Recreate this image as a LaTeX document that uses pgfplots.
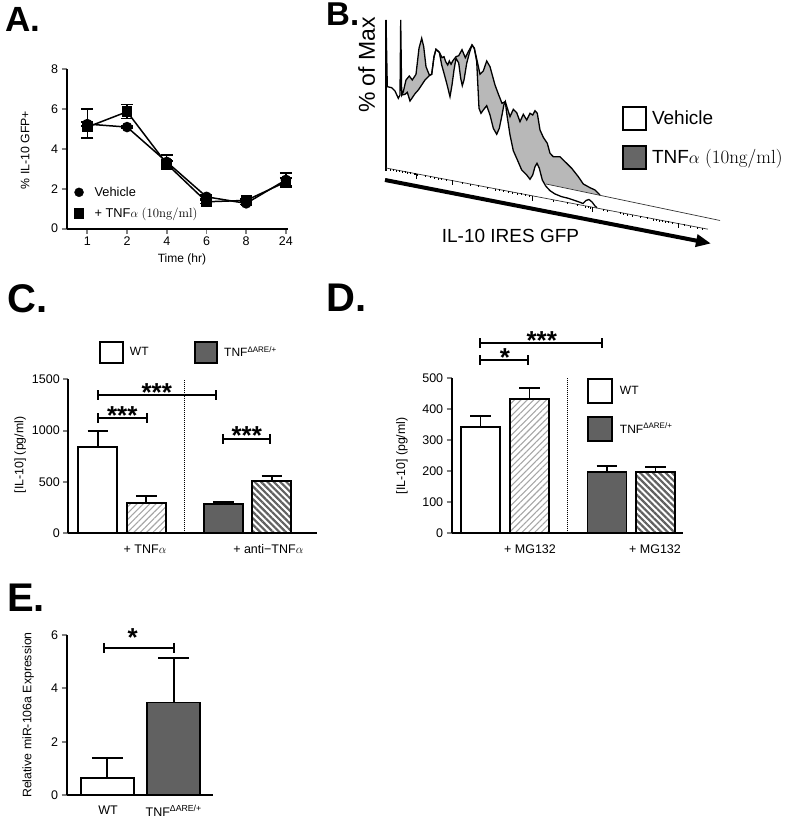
\documentclass[border=0pt]{standalone}
\usepackage{fontspec}
\setsansfont{Liberation Sans}
\renewcommand{\familydefault}{\sfdefault}
\usepackage{pgfplots}
\pgfplotsset{compat=1.18}
\usetikzlibrary{patterns.meta,arrows.meta}
\definecolor{dgray}{HTML}{616161}
\definecolor{hgray}{HTML}{B8B8B8}
\newcommand\fs[1]{\fontsize{#1}{#1}\selectfont}
\pgfplotsset{
 gp/.style={scale only axis, clip=false, axis x line=bottom, axis y line=left,
   axis line style={-, line width=1.9pt},
   every outer x axis line/.append style={-}, every outer y axis line/.append style={-},
   tick style={line width=1.9pt}, major tick length=5pt, tick align=outside,
   tick label style={font=\fs{12.5}}, /pgf/number format/assume math mode=true,
   /pgf/number format/set thousands separator={},
   ylabel style={anchor=center, font=\fs{12.3}}, xlabel style={anchor=center, font=\fs{12}},
   legend style={draw=none, fill=none, inner sep=0pt, outer sep=0pt}},
 sbar/.style={ybar, bar shift=0pt, draw=black, line width=1.9pt,
   /pgfplots/error bars/y dir=plus, /pgfplots/error bars/y explicit,
   /pgfplots/error bars/error bar style={line width=1.9pt},
   /pgfplots/error bars/error mark options={rotate=90, line width=1.9pt, mark size=#1}},
 lhatch/.style={pattern={Lines[angle=45,distance=4.5pt,line width=1.1pt]}, pattern color=black!35},
 dhatch/.style={pattern={Lines[angle=-45,distance=4.5pt,line width=2.2pt]}, pattern color=dgray},
}
\newcommand\brk[6]{% x1 x2 y starx text yshift
 \draw[line width=1.9pt] (axis cs:#1,#3) -- (axis cs:#2,#3);
 \draw[line width=1.9pt] (axis cs:#1,#3) ++(0pt,5pt) -- ++(0pt,-10pt);
 \draw[line width=1.9pt] (axis cs:#2,#3) ++(0pt,5pt) -- ++(0pt,-10pt);
 \node[anchor=base, font=\bfseries\fs{26}, inner sep=0pt, yshift=#6] at (axis cs:#4,#3) {#5};}
\begin{document}
\begin{tikzpicture}[x=1pt,y=1pt]
\useasboundingbox (0pt,0pt) rectangle (800pt,819pt);
% panel letters
\node[anchor=base west, inner sep=0pt, font=\bfseries\fs{35}] at (5pt,787pt) {A.};
\node[anchor=base west, inner sep=0pt, font=\bfseries\fs{33}] at (326pt,793pt) {B.};
\node[anchor=base west, inner sep=0pt, font=\bfseries\fs{40}] at (7pt,506pt) {C.};
\node[anchor=base west, inner sep=0pt, font=\bfseries\fs{40}] at (326pt,507pt) {D.};
\node[anchor=base west, inner sep=0pt, font=\bfseries\fs{40}] at (7pt,207pt) {E.};

% ---------------- A ----------------
\begin{axis}[gp, at={(66.7pt,590.3pt)}, anchor=south west, width=221.6pt, height=159.4pt,
  xmin=-0.52, xmax=5.06, ymin=0, ymax=8, xtick={0,1,2,3,4,5}, xticklabels={1,2,4,6,8,24},
  ytick={0,2,4,6,8},
  ylabel={\% IL-10 GFP+}, ylabel style={at={(axis description cs:-0.188,0.494)}, font=\fs{12.3}},
  xlabel={Time (hr)}, xlabel style={at={(axis description cs:0.52,-0.19)}, font=\fs{12}},
  legend style={at={(axis description cs:0.035,0.262)}, anchor=north west, font=\fs{12.8},
    row sep=10pt, column sep=11pt, nodes={inner sep=0pt, anchor=west}},
  legend image code/.code={\draw[#1] plot coordinates {(5pt,0pt)};}]
\addplot[black, line width=1.5pt, mark=*, mark size=4.5pt, forget plot,
  error bars/.cd, y dir=both, y explicit, error bar style={line width=1.4pt},
  error mark options={rotate=90, line width=1.4pt, mark size=6pt}]
  coordinates {(0,5.25) +- (0,0.1) (1,5.1) +- (0,0.05) (2,3.35) +- (0,0.35)
               (3,1.6) +- (0,0.1) (4,1.27) +- (0,0.05) (5,2.45) +- (0,0.35)};
\addplot[black, line width=1.5pt, mark=square*, mark size=4.6pt, forget plot,
  error bars/.cd, y dir=both, y explicit, error bar style={line width=1.4pt},
  error mark options={rotate=90, line width=1.4pt, mark size=6pt}]
  coordinates {(0,5.1) += (0,0.9) -= (0,0.55) (1,5.87) +- (0,0.35) (2,3.25) +- (0,0.15)
               (3,1.35) +- (0,0.1) (4,1.42) +- (0,0.08) (5,2.35) +- (0,0.2)};
\addlegendimage{only marks, mark=*, mark size=4.5pt, black}
\addlegendentry{Vehicle}
\addlegendimage{only marks, mark=square*, mark size=4.6pt, black}
\addlegendentry{+ TNF$\alpha$ {\rmfamily(10ng/ml)}}
\end{axis}

% ---------------- B ----------------
\begin{axis}[hide axis, scale only axis, clip=false, at={(380pt,569pt)}, anchor=south west,
  width=350pt, height=250pt, xmin=380, xmax=730, ymin=-250, ymax=0,
  legend style={draw=none, fill=none, inner sep=0pt, outer sep=0pt,
    at={(axis description cs:0.6906,0.576)}, anchor=north west, font=\fs{19},
    row sep=13.5pt, column sep=5pt, nodes={inner sep=0pt, anchor=west}},
  legend image code/.code={\draw[#1, line width=2pt] (0pt,-11.65pt) rectangle (23.3pt,11.65pt);}]
\addplot[fill=hgray, draw=none, forget plot] coordinates {
(386,-20) (387.3,-86.7) (391.7,-87.7) (395,-91) (398.3,-98.3) (400,-95) (400.7,-20) (401.7,-95)
(403.3,-91.7) (406,-80) (409.3,-76) (412.3,-80) (416,-74.3) (419,-48.3) (421.7,-38.3) (423.7,-46.7)
(426,-66.7) (429.3,-75) (431.7,-74.3) (434,-56.7) (436,-49.3) (439.3,-52.3) (442,-57.7) (444,-56.7)
(445.7,-61.7) (447.7,-65) (449.3,-61) (451,-64.3) (452.7,-61) (456,-56.7) (458.7,-55.7) (462,-49.7)
(465.3,-57.7) (468.7,-51) (472,-45) (474.3,-48.3) (477.3,-61.7) (480,-74.3) (483.3,-71) (486.7,-61)
(490,-66.7) (495,-85) (498.7,-95) (502,-103.3) (505.3,-101.7) (510,-116.7) (513.3,-109.3) (516.7,-112.7)
(520,-121.7) (523.3,-114.3) (526.7,-120) (530,-113.3) (532.7,-115) (535,-110.7) (537.3,-113.3) (540,-130)
(543.3,-137.3) (547.3,-143.3) (550,-153.3) (553.3,-156.7) (560,-156.7) (565,-161.7) (571.7,-168.3)
(578.3,-176.7) (583.3,-184) (590,-187.7) (595,-190) (600,-195) (386,-151)} -- cycle;
\addplot[fill=white, draw=none, forget plot] coordinates {
(386,-168) (386,-20) (387.3,-86.7) (391.7,-87.7) (395,-91) (398.3,-98.3) (400,-95) (400.7,-20) (401.7,-95)
(405,-94.3) (407.3,-92.3) (410,-101) (412.3,-97.7) (415,-93.7) (418.3,-90) (421.7,-85) (425,-80)
(429.3,-75.7) (431.7,-74.3) (434,-56.7) (436,-49.3) (439.3,-52.3) (441.7,-65) (444,-73.3) (446.7,-83.3)
(450,-96.7) (452,-85) (454,-70) (456,-58.3) (458.7,-63) (460.7,-78.3) (462.3,-85.7) (464,-80)
(466.7,-63.3) (469.3,-53.3) (472,-45) (474.3,-48.3) (476.7,-61.7) (479,-108.3) (481,-113.3) (483.3,-110)
(486.7,-105.7) (490,-115) (493.3,-128.3) (496.7,-134.3) (499.3,-128.3) (502,-115) (504,-104.3) (505.3,-101.7)
(506.7,-113.3) (510,-135) (513.3,-150.7) (517.7,-160.7) (521.7,-170) (526.7,-175) (530,-179.3) (532.7,-175)
(535,-166.7) (537,-163.3) (539.3,-168.3) (542.3,-180) (545.7,-186) (550,-190.7) (555,-194) (561.7,-196.7)
(568.3,-198.3) (578.3,-201.7) (583,-203.5) (586,-200.5) (589,-199.5) (592,-202) (595,-206) (597,-207.8)} -- cycle;
\addplot[black, line width=1.3pt, forget plot] coordinates {
(386,-20) (387.3,-86.7) (391.7,-87.7) (395,-91) (398.3,-98.3) (400,-95) (400.7,-20) (401.7,-95)
(403.3,-91.7) (406,-80) (409.3,-76) (412.3,-80) (416,-74.3) (419,-48.3) (421.7,-38.3) (423.7,-46.7)
(426,-66.7) (429.3,-75) (431.7,-74.3) (434,-56.7) (436,-49.3) (439.3,-52.3) (442,-57.7) (444,-56.7)
(445.7,-61.7) (447.7,-65) (449.3,-61) (451,-64.3) (452.7,-61) (456,-56.7) (458.7,-55.7) (462,-49.7)
(465.3,-57.7) (468.7,-51) (472,-45) (474.3,-48.3) (477.3,-61.7) (480,-74.3) (483.3,-71) (486.7,-61)
(490,-66.7) (495,-85) (498.7,-95) (502,-103.3) (505.3,-101.7) (510,-116.7) (513.3,-109.3) (516.7,-112.7)
(520,-121.7) (523.3,-114.3) (526.7,-120) (530,-113.3) (532.7,-115) (535,-110.7) (537.3,-113.3) (540,-130)
(543.3,-137.3) (547.3,-143.3) (550,-153.3) (553.3,-156.7) (560,-156.7) (565,-161.7) (571.7,-168.3)
(578.3,-176.7) (583.3,-184) (590,-187.7) (595,-190) (600,-195)};
\addplot[black, line width=1.3pt, forget plot] coordinates {
(401.7,-95) (405,-94.3) (407.3,-92.3) (410,-101) (412.3,-97.7) (415,-93.7) (418.3,-90) (421.7,-85) (425,-80)
(429.3,-75.7) (431.7,-74.3) (434,-56.7) (436,-49.3) (439.3,-52.3) (441.7,-65) (444,-73.3) (446.7,-83.3)
(450,-96.7) (452,-85) (454,-70) (456,-58.3) (458.7,-63) (460.7,-78.3) (462.3,-85.7) (464,-80)
(466.7,-63.3) (469.3,-53.3) (472,-45) (474.3,-48.3) (476.7,-61.7) (479,-108.3) (481,-113.3) (483.3,-110)
(486.7,-105.7) (490,-115) (493.3,-128.3) (496.7,-134.3) (499.3,-128.3) (502,-115) (504,-104.3) (505.3,-101.7)
(506.7,-113.3) (510,-135) (513.3,-150.7) (517.7,-160.7) (521.7,-170) (526.7,-175) (530,-179.3) (532.7,-175)
(535,-166.7) (537,-163.3) (539.3,-168.3) (542.3,-180) (545.7,-186) (550,-190.7) (555,-194) (561.7,-196.7)
(568.3,-198.3) (578.3,-201.7) (583,-203.5) (586,-200.5) (589,-199.5) (592,-202) (595,-206) (597,-207.8)};
\addplot[black, line width=1.1pt, forget plot] coordinates {(386,-20) (386,-171)};
\addplot[black!80, line width=0.7pt, forget plot] coordinates {(386,-168) (708,-229.2)};
\addplot[black!80, line width=0.7pt, forget plot] coordinates {(546,-184) (720,-220.5)};
\addplot[only marks, mark=|, mark size=1pt, mark options={line width=0.6pt, black}, forget plot] coordinates {
(390,-169.6) (393,-170.2) (396,-170.8) (399,-171.3) (402,-171.9) (405,-172.5) (407,-172.9) (410,-173.4)
(414,-174.2) (415,-174.4) (417,-174.8) (425,-176.3) (430,-177.2) (434,-178.0) (438,-178.8) (441,-179.3)
(446,-180.3) (462,-183.3) (470,-184.8) (478,-186.4) (487,-188.1) (495,-189.6) (499,-190.3) (503,-191.1)
(508,-192.1) (512,-192.8) (517,-193.8) (521,-194.5) (525,-195.3) (529,-196.0) (553,-200.6) (567,-203.3)
(577,-205.2) (585,-206.7) (588,-207.3) (590,-207.6) (603,-210.1) (607,-210.9) (620,-213.3) (623,-213.9)
(627,-214.7) (632,-215.6) (640,-217.1) (647,-218.5) (653,-219.6) (656,-220.2) (659,-220.7) (662,-221.3)
(665,-221.9) (668,-222.5) (672,-223.2) (684,-225.5) (690,-226.6) (697,-228.0) (702,-228.9)};
\addplot[only marks, mark=|, mark size=2.5pt, mark options={line width=0.8pt, black}, forget plot] coordinates {
(416,-176.1) (452,-182.9) (532,-198.1) (592,-209.5) (678,-225.9)};
\addplot[black, line width=4pt, -{Triangle[length=15pt,width=12pt]}, forget plot]
  coordinates {(385,-180) (711,-243.5)};
\node[rotate=90, font=\fs{23}, inner sep=0pt] at (axis cs:366.7,-65) {\% of Max};
\node[font=\fs{19}, inner sep=0pt] at (axis cs:510.5,-236) {IL-10 IRES GFP};
\addlegendimage{fill=white}
\addlegendentry{Vehicle}
\addlegendimage{fill=black!60}
\addlegendentry{TNF$\alpha$ {\rmfamily(10ng/ml)}}
\end{axis}

% ---------------- C ----------------
\begin{axis}[gp, at={(68.3pt,285.7pt)}, anchor=south west, width=248.4pt, height=154pt,
  xmin=68.3, xmax=316.7, ymin=0, ymax=1500, ytick={0,500,1000,1500},
  xtick={145,268.3}, xticklabels={+ TNF$\alpha$, + anti−TNF$\alpha$},
  every x tick/.append style={draw=none}, xticklabel style={yshift=-3pt},
  ylabel={[IL-10] (pg/ml)}, ylabel style={at={(axis description cs:-0.194,0.508)}},
  legend columns=2,
  legend style={at={(axis description cs:0.125,1.25)}, anchor=north west, font=\fs{12},
    column sep=6.3pt, /tikz/every even column/.append style={column sep=45pt},
    nodes={inner sep=0pt, anchor=west}},
  legend image code/.code={\draw[#1, line width=1.9pt] (0pt,-10.5pt) rectangle (22.4pt,10.5pt);}]
\addplot[sbar=10.3pt, bar width=39, fill=white, forget plot] coordinates {(97.8,842) +- (0,155)};
\addplot[sbar=10.3pt, bar width=39, lhatch, forget plot] coordinates {(146.2,292) +- (0,74)};
\addplot[sbar=10.3pt, bar width=39, fill=dgray, forget plot] coordinates {(223.3,282) +- (0,25)};
\addplot[sbar=10.3pt, bar width=39, dhatch, forget plot] coordinates {(271.8,508) +- (0,52)};
\draw[densely dotted, line width=1pt] (axis cs:184.5,0) -- (axis cs:184.5,1500);
\brk{98.3}{216}{1345}{156.7}{***}{-6pt}
\brk{98.3}{146.7}{1120}{122.3}{***}{-6pt}
\brk{222.7}{270}{920}{246.7}{***}{-6pt}
\addlegendimage{fill=white}
\addlegendentry{WT}
\addlegendimage{fill=dgray}
\addlegendentry{TNF\textsuperscript{ΔARE/+}}
\end{axis}

% ---------------- D ----------------
\begin{axis}[gp, at={(451.7pt,285.7pt)}, anchor=south west, width=231.6pt, height=155pt,
  xmin=451.7, xmax=683.3, ymin=0, ymax=500, ytick={0,100,200,300,400,500},
  xtick={530,655}, xticklabels={+ MG132, + MG132},
  every x tick/.append style={draw=none}, xticklabel style={yshift=-3pt},
  ylabel={[IL-10] (pg/ml)}, ylabel style={at={(axis description cs:-0.215,0.5)}},
  legend style={at={(axis description cs:0.583,1.004)}, anchor=north west, font=\fs{12},
    row sep=12.2pt, column sep=7.3pt, nodes={inner sep=0pt, anchor=west}},
  legend image code/.code={\draw[#1, line width=1.9pt] (0pt,-12pt) rectangle (24pt,12pt);}]
\addplot[sbar=10.3pt, bar width=39, fill=white, forget plot] coordinates {(480.5,344) +- (0,35)};
\addplot[sbar=10.3pt, bar width=39, lhatch, forget plot] coordinates {(529.5,432) +- (0,36)};
\addplot[sbar=10.3pt, bar width=39, fill=dgray, forget plot] coordinates {(607,197) +- (0,21)};
\addplot[sbar=10.3pt, bar width=39, dhatch, forget plot] coordinates {(655.5,197) +- (0,16)};
\draw[densely dotted, line width=1pt] (axis cs:567.7,0) -- (axis cs:567.7,500);
\brk{480}{602.3}{613}{541.7}{***}{-6pt}
\brk{480}{528.3}{559}{505}{*}{-6pt}
\addlegendimage{fill=white}
\addlegendentry{WT}
\addlegendimage{fill=dgray}
\addlegendentry{TNF\textsuperscript{ΔARE/+}}
\end{axis}

% ---------------- E ----------------
\begin{axis}[gp, at={(66.7pt,24pt)}, anchor=south west, width=146.6pt, height=160pt,
  xmin=66.7, xmax=213.3, ymin=0, ymax=6, ytick={0,2,4,6},
  xtick={108,173.7}, xticklabels={WT, TNF\textsuperscript{ΔARE/+}},
  every x tick/.append style={draw=none}, xticklabel style={yshift=-2pt},
  ylabel={Relative miR-106a Expression}, ylabel style={at={(axis description cs:-0.262,0.5)}}]
\addplot[sbar=15.5pt, bar width=53.3, fill=white, forget plot] coordinates {(107.3,0.63) +- (0,0.75)};
\addplot[sbar=15.5pt, bar width=53.3, fill=dgray, forget plot] coordinates {(173.7,3.47) +- (0,1.66)};
\brk{104.3}{174}{5.52}{132.7}{*}{1pt}
\end{axis}
\end{tikzpicture}
\end{document}
